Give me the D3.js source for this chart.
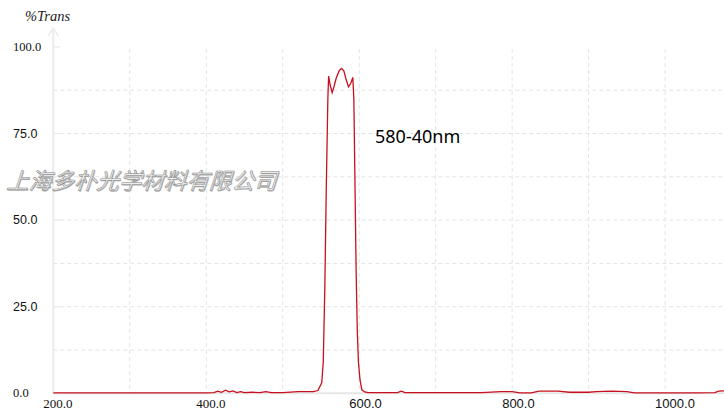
<!DOCTYPE html>
<html>
<head>
<meta charset="utf-8">
<script src="https://cdn.jsdelivr.net/npm/d3@7"></script>
<style>
  body { margin: 0; background: #fff; }
  svg { display: block; }
</style>
</head>
<body>
<div id="chart"></div>
<script>
// Data
// ==============================
var wavelength = [200, 250, 300, 350, 400, 410, 415, 420, 425, 430, 435, 440, 445, 450, 460, 470, 478, 485, 500, 520, 540,
  546, 551, 553, 555, 557, 559, 560, 562, 564.6, 567, 570, 574, 577, 580, 583, 586, 589, 591.6, 593, 594.5, 596, 597.5,
  599, 601, 603.4, 607, 612, 640, 650, 655, 660, 700, 760, 785, 800, 810, 825, 835, 860, 875, 900, 910, 930, 950, 960,
  1000, 1040, 1065, 1070, 1077];
var transmission = [0.1, 0.1, 0.1, 0.1, 0.15, 0.2, 0.6, 0.3, 0.9, 0.4, 0.7, 0.2, 0.5, 0.2, 0.3, 0.2, 0.5, 0.2, 0.2, 0.5, 0.5,
  0.8, 3, 9, 30, 60, 85, 91.6, 89, 86.8, 88.5, 91, 93.2, 93.8, 93, 90.5, 88.5, 89.5, 91.2, 85, 60, 35, 18,
  9, 4, 1, 0.4, 0.2, 0.2, 0.2, 0.6, 0.2, 0.2, 0.2, 0.5, 0.5, 0.1, 0.1, 0.6, 0.6, 0.3, 0.3, 0.5, 0.6, 0.5, 0.1,
  0.1, 0.1, 0.2, 0.6, 0.7];

var xTickValues = [200, 400, 600, 800, 1000];
var xTickLabels = ["200.0", "400.0", "600.0", "800.0", "1000.0"];
var xGridValues = [300, 400, 500, 600, 700, 800, 900, 1000];
var yTickValues = [0, 25, 50, 75, 100];
var yTickLabels = ["0.0", "25.0", "50.0", "75.0", "100.0"];
var yGridValues = [12.5, 25, 37.5, 50, 62.5, 75, 87.5];
var serifLabels = ["0.0", "100.0", "200.0", "400.0"];

var yLabel = "%Trans";
var filterLabel = "580-40nm";
var watermark = "上海多朴光学材料有限公司";

// SVG area
// ==============================
var svgWidth = 724;
var svgHeight = 410;

var svg = d3.select("#chart")
  .append("svg")
  .attr("width", svgWidth)
  .attr("height", svgHeight);

var plot = {left: 53.3, right: 724, top: 46.9, bottom: 393.3};

var xScale = d3.scaleLinear()
  .domain([200, 1077])
  .range([plot.left, plot.right]);

var yScale = d3.scaleLinear()
  .domain([0, 100])
  .range([plot.bottom, plot.top]);

// Grid lines
// ==============================
svg.append("g").selectAll("line")
  .data(xGridValues)
  .enter().append("line")
  .attr("x1", d => xScale(d)).attr("x2", d => xScale(d))
  .attr("y1", yScale(99.4)).attr("y2", plot.bottom)
  .attr("stroke", "#e4e4e4")
  .attr("stroke-dasharray", "4,3");

svg.append("g").selectAll("line")
  .data(yGridValues)
  .enter().append("line")
  .attr("x1", plot.left).attr("x2", plot.right)
  .attr("y1", d => yScale(d)).attr("y2", d => yScale(d))
  .attr("stroke", "#e4e4e4")
  .attr("stroke-dasharray", "4,3");

// Axes
// ==============================
svg.append("line")
  .attr("x1", plot.left).attr("x2", plot.right)
  .attr("y1", plot.bottom).attr("y2", plot.bottom)
  .attr("stroke", "#e6e6e6").attr("stroke-width", 2);

svg.append("line")
  .attr("x1", plot.left).attr("x2", plot.left)
  .attr("y1", plot.bottom).attr("y2", 28)
  .attr("stroke", "#ececec").attr("stroke-width", 2);

svg.append("path")
  .attr("d", `M${plot.left - 5},36 L${plot.left},28 L${plot.left + 5},36`)
  .attr("fill", "none")
  .attr("stroke", "#ececec").attr("stroke-width", 1.5);

// small inward ticks on the y axis
svg.append("g").selectAll("line")
  .data(yTickValues)
  .enter().append("line")
  .attr("x1", plot.left).attr("x2", plot.left + 7)
  .attr("y1", d => yScale(d)).attr("y2", d => yScale(d))
  .attr("stroke", "#ececec").attr("stroke-width", 1.5);

function labelFont(t) {
  return serifLabels.indexOf(t) >= 0 ? "'Liberation Serif', 'DejaVu Serif', serif" : "'Liberation Sans', Arial, sans-serif";
}

svg.append("g").selectAll("text")
  .data(xTickValues)
  .enter().append("text")
  .attr("x", d => xScale(d) - 10)
  .attr("y", 408)
  .attr("font-family", (d, i) => labelFont(xTickLabels[i]))
  .attr("font-size", 13)
  .attr("fill", "#111")
  .text((d, i) => xTickLabels[i]);

svg.append("g").selectAll("text")
  .data(yTickValues)
  .enter().append("text")
  .attr("x", 13)
  .attr("y", d => yScale(d) + 4)
  .attr("font-family", (d, i) => labelFont(yTickLabels[i]))
  .attr("font-size", 12.5)
  .attr("fill", "#111")
  .text((d, i) => yTickLabels[i]);

svg.append("text")
  .attr("x", 25)
  .attr("y", 21)
  .attr("font-family", "'Liberation Serif', serif")
  .attr("font-style", "italic")
  .attr("font-size", 14.5)
  .attr("fill", "#222")
  .text(yLabel);

// Watermark
// ==============================
var wm = svg.append("g")
  .attr("transform", "translate(6,189) skewX(-18)");

wm.append("text")
  .attr("x", 1.2).attr("y", 1.2)
  .attr("font-family", "'Noto Sans CJK SC', sans-serif")
  .attr("font-size", 22.5)
  .attr("fill", "#b0b0b0")
  .text(watermark);

wm.append("text")
  .attr("font-family", "'Noto Sans CJK SC', sans-serif")
  .attr("font-size", 22.5)
  .attr("fill", "#ececec")
  .attr("stroke", "#858585")
  .attr("stroke-width", 0.5)
  .text(watermark);

// Curve
// ==============================
var curveData = wavelength.map((w, i) => ({x: w, y: transmission[i]}));

var line = d3.line()
  .x(d => xScale(d.x))
  .y(d => yScale(d.y));

svg.append("path")
  .datum(curveData)
  .attr("d", line)
  .attr("fill", "none")
  .attr("stroke", "#c8101e")
  .attr("stroke-width", 1.3);

// Filter annotation
// ==============================
svg.append("text")
  .attr("x", 375)
  .attr("y", 142.5)
  .attr("font-family", "'Noto Sans', sans-serif")
  .attr("font-size", 18)
  .attr("fill", "#000")
  .text(filterLabel);
</script>
</body>
</html>
